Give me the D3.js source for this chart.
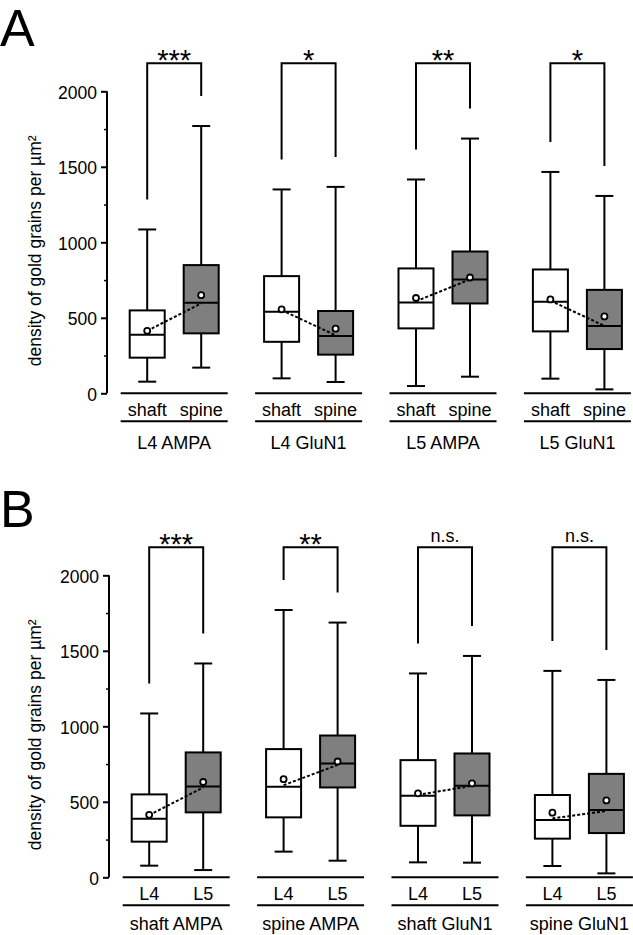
<!DOCTYPE html>
<html>
<head>
<meta charset="utf-8">
<script src="https://cdn.jsdelivr.net/npm/d3@7"></script>
<style>
  html, body { margin: 0; padding: 0; background: #fff; }
  svg { display: block; }
  text { font-family: "Liberation Sans", Arial, Helvetica, sans-serif; fill: #000; }
</style>
</head>
<body>
<svg id="chart" width="633" height="935"></svg>
<script>
// ---------- Data ----------
const yTicks = [0, 500, 1000, 1500, 2000];
const yMinorTicks = [250, 750, 1250, 1750];
const yTitle = "density of gold grains per µm²";

// Panel A : shaft vs spine
const groupsA = ["L4 AMPA", "L4 GluN1", "L5 AMPA", "L5 GluN1"];
const condsA = ["shaft", "spine"];
const sigA = ["***", "*", "**", "*"];
// [first, second] per group
const whiskerLowA = [[77, 170], [99, 75], [48, 110], [97, 26]];
const q1A = [[236, 397], [341, 256], [430, 595], [410, 293]];
const medianA = [[388, 600], [540, 379], [602, 754], [606, 445]];
const q3A = [[549, 849], [776, 545], [827, 939], [820, 685]];
const whiskerHighA = [[1085, 1770], [1350, 1367], [1416, 1687], [1466, 1307]];
const meanA = [[414, 650], [556, 428], [631, 767], [622, 509]];
const linkA = [[414, 595], [551, 384], [610, 754], [613, 447]];

// Panel B : L4 vs L5
const groupsB = ["shaft AMPA", "spine AMPA", "shaft GluN1", "spine GluN1"];
const condsB = ["L4", "L5"];
const sigB = ["***", "**", "n.s.", "n.s."];
const whiskerLowB = [[77, 48], [170, 110], [99, 97], [75, 26]];
const q1B = [[236, 430], [397, 595], [341, 410], [256, 293]];
const medianB = [[388, 602], [600, 754], [540, 606], [379, 445]];
const q3B = [[549, 827], [849, 939], [776, 820], [545, 685]];
const whiskerHighB = [[1085, 1416], [1770, 1687], [1350, 1466], [1367, 1307]];
const meanB = [[414, 631], [650, 767], [556, 622], [428, 509]];
const linkB = [[412, 595], [610, 744], [546, 606], [390, 439]];

const fills = ["#ffffff", "#7f7f7f"];

// ---------- Drawing ----------
const svg = d3.select("#chart");

function drawPanel(cfg) {
  const g = svg.append("g");
  const y = d3.scaleLinear().domain([0, 2000]).range([cfg.y0, cfg.y0 - 302]);
  const xBand = d3.scaleBand().domain(cfg.groups).range([cfg.axisX, cfg.axisX + 4 * 134.4]).padding(0);
  const xIn = d3.scalePoint().domain(cfg.conds).range([-27, 27]);
  const cx = (gi, ci) => xBand(cfg.groups[gi]) + xBand.bandwidth() / 2 + xIn(cfg.conds[ci]);
  const gc = gi => xBand(cfg.groups[gi]) + xBand.bandwidth() / 2;

  // panel letter
  g.append("text").attr("x", 0).attr("y", cfg.letterY)
    .attr("font-size", 52).text(cfg.letter);

  // y axis
  const ax = g.append("g").attr("transform", `translate(${cfg.axisX},0)`)
    .call(d3.axisLeft(y).tickValues(yTicks).tickSize(6).tickSizeOuter(0).tickPadding(4).tickFormat(d3.format("d")));
  ax.select(".domain").attr("stroke", "#000").attr("stroke-width", 2).attr("d", `M0,${y(0)}V${y(2000)}`);
  ax.selectAll(".tick line").attr("stroke", "#000").attr("stroke-width", 2);
  ax.selectAll(".tick text").attr("font-size", 17.5).attr("fill", "#000")
    .attr("font-family", "Liberation Sans, Arial, sans-serif").attr("dy", "0.4em");
  const axm = g.append("g").attr("transform", `translate(${cfg.axisX},0)`)
    .call(d3.axisLeft(y).tickValues(yMinorTicks).tickSize(3).tickSizeOuter(0).tickFormat(""));
  axm.select(".domain").remove();
  axm.selectAll(".tick line").attr("stroke", "#000").attr("stroke-width", 1.5);

  // y title
  g.append("text")
    .attr("transform", `translate(41,${cfg.y0 - 27}) rotate(-90)`)
    .attr("font-size", 17.5).attr("text-anchor", "start").text(yTitle);

  const boxW = 35, capW = 18;
  cfg.groups.forEach((grp, gi) => {
    // x axis lines and labels
    const c = gc(gi);
    g.append("line").attr("x1", c - 53.5).attr("x2", c + 53.5)
      .attr("y1", y(0)).attr("y2", y(0)).attr("stroke", "#000").attr("stroke-width", 2);
    g.append("line").attr("x1", c - 53.5).attr("x2", c + 53.5)
      .attr("y1", y(0) + 28).attr("y2", y(0) + 28).attr("stroke", "#000").attr("stroke-width", 2);
    cfg.conds.forEach((cond, ci) => {
      g.append("text").attr("x", cx(gi, ci)).attr("y", y(0) + 22.4)
        .attr("text-anchor", "middle").attr("font-size", 18).text(cond);
    });
    g.append("text").attr("x", c).attr("y", y(0) + cfg.groupLabelDy)
      .attr("text-anchor", "middle").attr("font-size", 18).text(grp);

    // boxes
    cfg.conds.forEach((cond, ci) => {
      const x = cx(gi, ci);
      const lo = cfg.lo[gi][ci], q1 = cfg.q1[gi][ci], md = cfg.med[gi][ci], q3 = cfg.q3[gi][ci], hi = cfg.hi[gi][ci];
      const ln = (x1, y1, x2, y2) => g.append("line").attr("x1", x1).attr("y1", y1).attr("x2", x2).attr("y2", y2)
        .attr("stroke", "#000").attr("stroke-width", 2);
      ln(x, y(hi), x, y(q3));
      ln(x, y(q1), x, y(lo));
      ln(x - capW / 2, y(hi), x + capW / 2, y(hi));
      ln(x - capW / 2, y(lo), x + capW / 2, y(lo));
      g.append("rect").attr("x", x - boxW / 2).attr("y", y(q3)).attr("width", boxW)
        .attr("height", y(q1) - y(q3)).attr("fill", fills[ci]).attr("stroke", "#000").attr("stroke-width", 2);
      ln(x - boxW / 2, y(md), x + boxW / 2, y(md));
    });

    // dashed link
    g.append("line").attr("x1", cx(gi, 0)).attr("y1", y(cfg.link[gi][0]))
      .attr("x2", cx(gi, 1)).attr("y2", y(cfg.link[gi][1]))
      .attr("stroke", "#000").attr("stroke-width", 2).attr("stroke-dasharray", "3,2");

    // means
    cfg.conds.forEach((cond, ci) => {
      g.append("circle").attr("cx", cx(gi, ci)).attr("cy", y(cfg.mean[gi][ci])).attr("r", 3)
        .attr("fill", "#fff").attr("stroke", "#000").attr("stroke-width", 1.8);
    });

    // significance bracket
    const top = y(2000) - 28;
    const xl = cx(gi, 0), xr = cx(gi, 1);
    const yl = y(cfg.hi[gi][0]) - 30, yr = y(cfg.hi[gi][1]) - 30;
    g.append("path").attr("d", `M${xl},${yl}V${top}H${xr}V${yr}`)
      .attr("fill", "none").attr("stroke", "#000").attr("stroke-width", 2);
    const stars = cfg.sig[gi].includes("*");
    g.append("text").attr("x", c).attr("y", stars ? top + 7 : top - 5.6)
      .attr("text-anchor", "middle").attr("font-size", stars ? 29 : 18).text(cfg.sig[gi]);
  });
}

drawPanel({
  letter: "A", letterY: 46, axisX: 107, y0: 393.3, groupLabelDy: 55.7,
  groups: groupsA, conds: condsA, sig: sigA,
  lo: whiskerLowA, q1: q1A, med: medianA, q3: q3A, hi: whiskerHighA, mean: meanA, link: linkA
});
drawPanel({
  letter: "B", letterY: 527, axisX: 109, y0: 877.3, groupLabelDy: 52.7,
  groups: groupsB, conds: condsB, sig: sigB,
  lo: whiskerLowB, q1: q1B, med: medianB, q3: q3B, hi: whiskerHighB, mean: meanB, link: linkB
});
</script>
</body>
</html>
